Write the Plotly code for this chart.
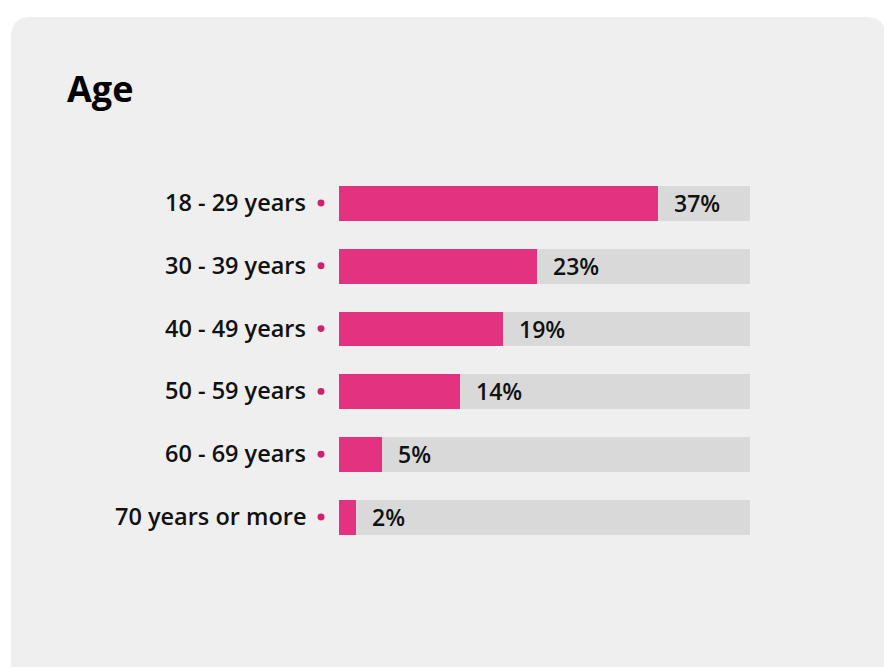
import plotly.graph_objects as go

# Age distribution of respondents
age_groups = ["18 - 29 years", "30 - 39 years", "40 - 49 years",
              "50 - 59 years", "60 - 69 years", "70 years or more"]
shares = [37, 23, 19, 14, 5, 2]          # percent
value_labels = ["37%", "23%", "19%", "14%", "5%", "2%"]
axis_max = 47.65                          # value at the right end of the grey track

W, H = 884, 667
PINK = "#e3327f"
DOT = "#d0226b"
TRACK = "#d9d9d9"
CARD = "#efefef"
INK = "#111111"
FONT = "Open Sans"

rows = list(range(len(age_groups)))
bar_w = 0.557


def px(x):
    return x / W


def py(y):
    return 1 - y / H


fig = go.Figure()

# grey track behind each bar
fig.add_trace(go.Bar(
    y=rows, x=[axis_max] * len(rows), orientation="h",
    marker=dict(color=TRACK, line=dict(width=0)), width=bar_w,
    hoverinfo="skip", showlegend=False,
))
# share bars
fig.add_trace(go.Bar(
    y=rows, x=shares, orientation="h",
    marker=dict(color=PINK, line=dict(width=0)), width=bar_w,
    showlegend=False,
))

# value labels right after each bar
for r, v, t in zip(rows, shares, value_labels):
    fig.add_annotation(x=v, y=r, xref="x", yref="y", text=t, showarrow=False,
                       xanchor="left", yanchor="middle", xshift=14,
                       font=dict(family=FONT, size=23, color=INK, weight=600))

# category labels with a small dot before the bar
for r, g in zip(rows, age_groups):
    fig.add_annotation(x=px(308), y=r, xref="paper", yref="y", text=g,
                       showarrow=False, xanchor="right", yanchor="middle",
                       yshift=1,
                       font=dict(family=FONT, size=23.5, color=INK, weight=600))
    fig.add_shape(type="circle", xref="paper", yref="y",
                  x0=px(317.5), x1=px(324.5), y0=r - 0.055, y1=r + 0.055,
                  fillcolor=DOT, line=dict(width=0), layer="above")

# card background with rounded top corners
x0, y0, x1, y1, rad = 11, 17, 886, 690, 20
pts = dict(
    a=(px(x0), py(y1)), b=(px(x0), py(y0 + rad)), c=(px(x0), py(y0)),
    d=(px(x0 + rad), py(y0)), e=(px(x1 - rad), py(y0)), f=(px(x1), py(y0)),
    g=(px(x1), py(y0 + rad)), h=(px(x1), py(y1)),
)
s = {k: f"{v[0]:.5f},{v[1]:.5f}" for k, v in pts.items()}
card = (f"M {s['a']} L {s['b']} Q {s['c']} {s['d']} L {s['e']} "
        f"Q {s['f']} {s['g']} L {s['h']} Z")
fig.add_shape(type="path", xref="paper", yref="paper", layer="below",
              path=card, fillcolor=CARD, line=dict(width=0))

# title
fig.add_annotation(x=px(65), y=py(62), xref="paper", yref="paper",
                   text="Age", showarrow=False, xanchor="left", yanchor="top",
                   font=dict(family=FONT, size=36, color="#000000", weight=700))

row_px = 62.8
top_px = 203 - row_px / 2
bot_px = 517 + row_px / 2

fig.update_layout(
    width=W, height=H,
    margin=dict(l=0, r=0, t=0, b=0),
    paper_bgcolor="#ffffff", plot_bgcolor="rgba(0,0,0,0)",
    barmode="overlay", bargap=0,
    xaxis=dict(domain=[px(339), px(750)], range=[0, axis_max],
               visible=False, fixedrange=True),
    yaxis=dict(domain=[py(bot_px), py(top_px)],
               range=[len(rows) - 0.5, -0.5], visible=False, fixedrange=True),
    font=dict(family=FONT),
)

fig.write_html("out.html")
